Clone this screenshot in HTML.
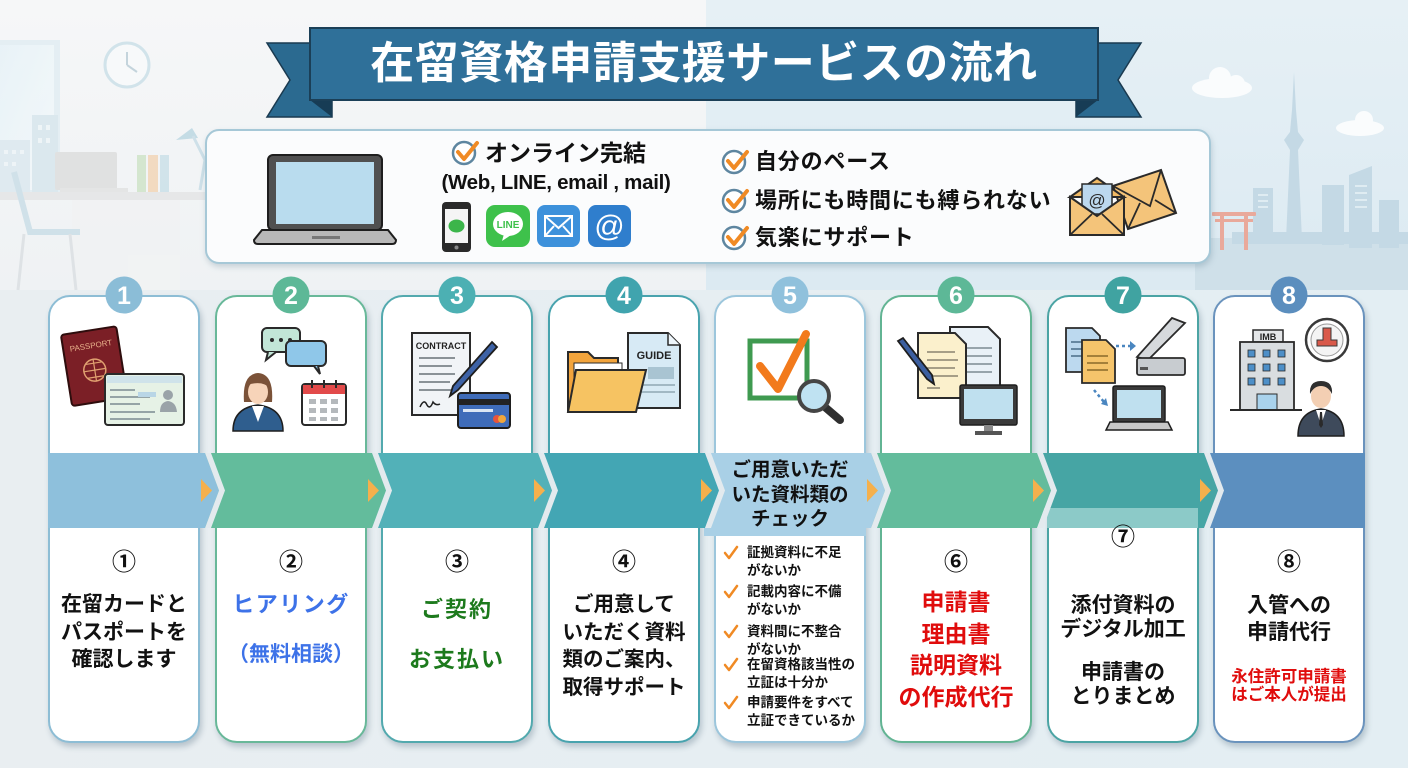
<!DOCTYPE html>
<html><head><meta charset="utf-8">
<style>
*{margin:0;padding:0;box-sizing:border-box}
html,body{width:1408px;height:768px;overflow:hidden;background:#e8eef1}
body{position:relative;font-family:"Liberation Sans","Noto Sans CJK JP",sans-serif}
svg{position:absolute;left:0;top:0}
.card{position:absolute;top:295px;width:152px;height:448px;border-radius:22px;background:#fff;border:2.5px solid #8cbcd4;box-shadow:2px 4px 6px rgba(60,90,110,0.28);z-index:1}
.t{position:absolute;width:152px;text-align:center;font-weight:bold;color:#111;white-space:nowrap;z-index:3;font-family:"Liberation Sans","Noto Sans CJK JP",sans-serif}
.n{font-size:24px;line-height:26px;font-weight:bold}
.h{position:absolute;font-weight:bold;color:#111;white-space:nowrap;z-index:3}
.ck{position:absolute;left:747px;width:120px;font-size:13.5px;line-height:18px;font-weight:bold;color:#111;white-space:nowrap;z-index:3}
</style></head><body>

<svg width="1408" height="768" style="z-index:0">
<defs>
<linearGradient id="gL" x1="0" y1="0" x2="0" y2="1"><stop offset="0" stop-color="#f6f7f8"/><stop offset="1" stop-color="#eff2f4"/></linearGradient>
<linearGradient id="gR" x1="0" y1="0" x2="0" y2="1"><stop offset="0" stop-color="#e6f0f5"/><stop offset="1" stop-color="#dceaf2"/></linearGradient>
<linearGradient id="gB" x1="0" y1="0" x2="1" y2="0"><stop offset="0" stop-color="#e9eef1"/><stop offset="1" stop-color="#e3eef3"/></linearGradient>
<linearGradient id="win" x1="0" y1="0" x2="1" y2="1"><stop offset="0" stop-color="#e6f2f8"/><stop offset="1" stop-color="#f4f9fb"/></linearGradient>
</defs>
<rect width="1408" height="768" fill="url(#gB)"/>
<rect x="0" y="0" width="706" height="290" fill="url(#gL)"/>
<rect x="706" y="0" width="702" height="290" fill="url(#gR)"/>
<g opacity="0.8">
<rect x="0" y="40" width="60" height="152" fill="#e1edf3"/>
<rect x="0" y="45" width="54" height="145" fill="url(#win)"/>
<rect x="32" y="115" width="26" height="78" fill="#d6e6ed"/>
<rect x="0" y="140" width="30" height="52" fill="#dbe8ef"/>
<g fill="#eef5f8"><rect x="38" y="125" width="4" height="5"/><rect x="46" y="125" width="4" height="5"/><rect x="38" y="138" width="4" height="5"/><rect x="46" y="138" width="4" height="5"/><rect x="4" y="150" width="4" height="4"/><rect x="12" y="150" width="4" height="4"/><rect x="20" y="150" width="4" height="4"/><rect x="4" y="162" width="4" height="4"/><rect x="12" y="162" width="4" height="4"/></g>
<circle cx="127" cy="65" r="22" fill="#f8fafb" stroke="#c9dfe8" stroke-width="3"/>
<path d="M127 65 V52 M127 65 L137 72" stroke="#b8ccd6" stroke-width="2" fill="none"/>
<rect x="55" y="152" width="62" height="38" rx="2" fill="#dcdddd"/>
<rect x="60" y="188" width="68" height="4" fill="#e2e2e2"/>
<rect x="137" y="155" width="9" height="37" fill="#cde3c6"/>
<rect x="148" y="155" width="10" height="37" fill="#f3d4b4"/>
<rect x="160" y="155" width="9" height="37" fill="#c9dfe8"/>
<path d="M176 140 L192 128 L198 138 Z" fill="#b9d6e2"/>
<path d="M193 136 L205 160 L200 190" stroke="#c6dce6" stroke-width="3" fill="none"/>
<rect x="0" y="192" width="206" height="8" fill="#e4e5e6"/>
<rect x="72" y="200" width="108" height="90" fill="#f1f2f3"/>
<path d="M14 172 L30 232 H80" stroke="#c8dde7" stroke-width="6" fill="none"/>
<path d="M24 234 L18 290 M70 234 L76 290" stroke="#dadfe2" stroke-width="3"/>
</g>
<rect x="1195" y="238" width="213" height="52" fill="#cfe0e9"/>
<g fill="#c4d9e5">
<rect x="1253" y="188" width="20" height="52"/>
<rect x="1322" y="185" width="22" height="60"/>
<path d="M1349 248 V175 L1372 166 V248 Z"/>
<rect x="1379" y="200" width="20" height="48"/>
<path d="M1286 240 L1290 150 L1284 140 L1290 132 L1292 110 L1294 72 L1296 110 L1298 132 L1304 140 L1298 150 L1302 240 Z"/>
<rect x="1232" y="232" width="176" height="12"/>
</g>
<g fill="#dfecf2"><rect x="1258" y="194" width="10" height="2"/><rect x="1258" y="200" width="10" height="2"/><rect x="1258" y="206" width="10" height="2"/><rect x="1355" y="185" width="12" height="2"/><rect x="1355" y="192" width="12" height="2"/><rect x="1355" y="199" width="12" height="2"/><rect x="1355" y="206" width="12" height="2"/></g>
<g fill="#e9a99b">
<rect x="1212" y="212" width="44" height="4" rx="1"/>
<rect x="1215" y="219" width="38" height="3"/>
<rect x="1220" y="215" width="4" height="35"/>
<rect x="1244" y="215" width="4" height="35"/>
</g>
<g fill="#fafcfd">
<ellipse cx="1222" cy="88" rx="30" ry="10"/><circle cx="1220" cy="78" r="11"/><circle cx="1236" cy="84" r="9"/>
<ellipse cx="1360" cy="128" rx="24" ry="8"/><circle cx="1364" cy="120" r="9"/>
</g>
</svg>

<svg width="1408" height="768" style="z-index:1">
<polygon points="267,43 332,43 332,117 267,117 290,80" fill="#2b6a90" stroke="#1a3a50" stroke-width="1.5"/>
<polygon points="1141,43 1076,43 1076,117 1141,117 1118,80" fill="#2b6a90" stroke="#1a3a50" stroke-width="1.5"/>
<polygon points="310,100 332,117 332,100" fill="#173c55"/>
<polygon points="1098,100 1076,117 1076,100" fill="#173c55"/>
<rect x="310" y="28" width="788" height="72" fill="#2f7099" stroke="#1b3f57" stroke-width="2"/>
<rect x="206" y="130" width="1004" height="133" rx="13" fill="#fbfcfd" stroke="#a6c8d7" stroke-width="2" style="filter:drop-shadow(1px 3px 3px rgba(80,110,130,0.25))"/>
<rect x="268" y="155" width="114" height="75" rx="5" fill="#505050" stroke="#1e1e1e" stroke-width="2"/>
<rect x="276" y="162" width="98" height="62" fill="#b9dcee"/>
<path d="M262 230 H388 L396 240 Q396 244 392 244 H258 Q254 244 254 240 Z" fill="#b8b8b8" stroke="#1e1e1e" stroke-width="2"/>
<rect x="312" y="236" width="28" height="3" fill="#777"/>
<g stroke="#5e86a0" stroke-width="2.5" fill="#fff">
<circle cx="464" cy="153" r="11"/><circle cx="734" cy="162" r="11"/><circle cx="734" cy="201" r="11"/><circle cx="734" cy="238" r="11"/>
</g>
<g stroke="#f08a24" stroke-width="4" fill="none" stroke-linecap="round" stroke-linejoin="round">
<path d="M458 152 L464 159 L477 143"/><path d="M728 161 L734 168 L747 152"/><path d="M728 200 L734 207 L747 191"/><path d="M728 237 L734 244 L747 228"/>
</g>
<rect x="442" y="202" width="29" height="50" rx="4" fill="#2a2a2a"/>
<rect x="445" y="209" width="23" height="34" fill="#f5f5f5"/>
<ellipse cx="456.5" cy="226" rx="8" ry="6.5" fill="#3cb54a"/>
<circle cx="456.5" cy="247.5" r="2" fill="#888"/>
<rect x="486" y="205" width="44" height="42" rx="9" fill="#3ec14b"/>
<ellipse cx="508" cy="224" rx="15" ry="12" fill="#fff"/>
<path d="M504 234 L502 241 L511 235 Z" fill="#fff"/>
<text x="508" y="228" font-size="10" font-weight="bold" fill="#3ec14b" text-anchor="middle" font-family="Liberation Sans, sans-serif">LINE</text>
<rect x="537" y="205" width="43" height="42" rx="8" fill="#3d91db"/>
<rect x="545" y="216" width="27" height="20" fill="none" stroke="#fff" stroke-width="2"/>
<path d="M545 216 L558.5 228 L572 216 M545 236 L554 226 M572 236 L563 226" fill="none" stroke="#fff" stroke-width="2"/>
<rect x="588" y="205" width="43" height="42" rx="8" fill="#2f7ecd"/>
<text x="609.5" y="236" font-size="30" fill="#fff" text-anchor="middle" font-family="Liberation Sans, sans-serif">@</text>
<polygon points="1113,186 1161,170 1176,213 1128,229" fill="#f4c47a" stroke="#2a2a2a" stroke-width="2"/>
<path d="M1113 186 L1150 206 L1161 170 M1128 229 L1140 203 M1176 213 L1155 200" fill="none" stroke="#2a2a2a" stroke-width="1.8"/>
<polygon points="1070,197 1097,178 1124,197" fill="#f0b964" stroke="#2a2a2a" stroke-width="2"/>
<rect x="1082" y="184" width="30" height="30" fill="#bcd8ee" stroke="#2a2a2a" stroke-width="1.5"/>
<text x="1097" y="206" font-size="17" fill="#2a2a2a" text-anchor="middle" font-family="Liberation Sans, sans-serif">@</text>
<path d="M1070 197 L1097 216 L1124 197 V235 H1070 Z" fill="#f4c47a" stroke="#2a2a2a" stroke-width="2"/>
<path d="M1070 235 L1092 214 M1124 235 L1102 214" fill="none" stroke="#2a2a2a" stroke-width="1.8"/>
</svg>

<div class="h" style="left:310px;top:28px;width:788px;height:72px;line-height:72px;text-align:center;color:#fff;font-size:44px;letter-spacing:0.5px">在留資格申請支援サービスの流れ</div>
<div class="h" style="left:485px;top:139px;font-size:23px;line-height:28px">オンライン完結</div>
<div class="h" style="left:426px;top:170px;width:260px;text-align:center;font-size:20.5px;line-height:26px;letter-spacing:-0.3px">(Web, LINE, email , mail)</div>
<div class="h" style="left:755px;top:148px;font-size:22px;line-height:28px;letter-spacing:0.8px">自分のペース</div>
<div class="h" style="left:755px;top:187px;font-size:22px;line-height:28px;letter-spacing:0.8px">場所にも時間にも縛られない</div>
<div class="h" style="left:755px;top:224px;font-size:22px;line-height:28px;letter-spacing:0.8px">気楽にサポート</div>

<div class="card" style="left:48px;border-color:#8dbdd5"></div>
<div class="card" style="left:215px;border-color:#68b899"></div>
<div class="card" style="left:381px;border-color:#52a9ae"></div>
<div class="card" style="left:548px;border-color:#48a3ae"></div>
<div class="card" style="left:714px;border-color:#9cc6dc"></div>
<div class="card" style="left:880px;border-color:#62b493"></div>
<div class="card" style="left:1047px;border-color:#4ba4a4"></div>
<div class="card" style="left:1213px;border-color:#6a93bd"></div>

<svg width="1408" height="768" style="z-index:2">
<rect x="48" y="453" width="152" height="75" fill="#8ec0dc"/>
<rect x="205" y="453" width="162" height="75" fill="#63bc9c"/>
<rect x="371" y="453" width="162" height="75" fill="#52b1b8"/>
<rect x="538" y="453" width="162" height="75" fill="#43a6b4"/>
<rect x="704" y="453" width="162" height="83" fill="#a9d0e6"/>
<rect x="870" y="453" width="162" height="75" fill="#63bc9c"/>
<rect x="1037" y="453" width="162" height="55" fill="#46a5a4"/>
<rect x="1047" y="508" width="152" height="20" fill="#8ccac8"/>
<rect x="1203" y="453" width="162" height="75" fill="#5c8fbf"/>
<g>
<polygon points="199,453 205,453 219,490.5 205,528 199,528" fill="#8ec0dc"/>
<polygon points="366,453 372,453 386,490.5 372,528 366,528" fill="#63bc9c"/>
<polygon points="532,453 538,453 552,490.5 538,528 532,528" fill="#52b1b8"/>
<polygon points="699,453 705,453 719,490.5 705,528 699,528" fill="#43a6b4"/>
<polygon points="865,453 871,453 885,490.5 871,528 865,528" fill="#a9d0e6"/>
<polygon points="1031,453 1037,453 1051,490.5 1037,528 1031,528" fill="#63bc9c"/>
<polygon points="1198,453 1204,453 1218,490.5 1204,528 1198,528" fill="#46a5a4"/>
</g>
<g fill="#e3eaee">
<polygon points="205,453 211,453 225,490.5 211,528 205,528 219,490.5"/>
<polygon points="372,453 378,453 392,490.5 378,528 372,528 386,490.5"/>
<polygon points="538,453 544,453 558,490.5 544,528 538,528 552,490.5"/>
<polygon points="705,453 711,453 725,490.5 711,528 705,528 719,490.5"/>
<polygon points="871,453 877,453 891,490.5 877,528 871,528 885,490.5"/>
<polygon points="1037,453 1043,453 1057,490.5 1043,528 1037,528 1051,490.5"/>
<polygon points="1204,453 1210,453 1224,490.5 1210,528 1204,528 1218,490.5"/>
</g>
<g fill="#f5b04c">
<polygon points="201,479 212,490.5 201,502"/>
<polygon points="368,479 379,490.5 368,502"/>
<polygon points="534,479 545,490.5 534,502"/>
<polygon points="701,479 712,490.5 701,502"/>
<polygon points="867,479 878,490.5 867,502"/>
<polygon points="1033,479 1044,490.5 1033,502"/>
<polygon points="1200,479 1211,490.5 1200,502"/>
</g>
<g font-family="Liberation Sans, sans-serif" font-weight="bold" font-size="25" fill="#fff" text-anchor="middle">
<circle cx="124" cy="295" r="18.5" fill="#8bbdd7"/><text x="124" y="304">1</text>
<circle cx="291" cy="295" r="18.5" fill="#5db897"/><text x="291" y="304">2</text>
<circle cx="457" cy="295" r="18.5" fill="#4cb0b3"/><text x="457" y="304">3</text>
<circle cx="624" cy="295" r="18.5" fill="#40a4ae"/><text x="624" y="304">4</text>
<circle cx="790" cy="295" r="18.5" fill="#90c1dc"/><text x="790" y="304">5</text>
<circle cx="956" cy="295" r="18.5" fill="#5db897"/><text x="956" y="304">6</text>
<circle cx="1123" cy="295" r="18.5" fill="#40a3a1"/><text x="1123" y="304">7</text>
<circle cx="1289" cy="295" r="18.5" fill="#5b8ebe"/><text x="1289" y="304">8</text>
</g>

<g transform="rotate(-9 95 365)">
<rect x="66" y="330" width="56" height="72" rx="3" fill="#7b1f26" stroke="#2e0d0d" stroke-width="2"/>
<text x="94" y="348" font-size="8" fill="#e6b08a" text-anchor="middle" font-family="Liberation Sans, sans-serif">PASSPORT</text>
<circle cx="94" cy="370" r="11" fill="none" stroke="#e0a070" stroke-width="1.5"/>
<path d="M83 370 H105 M94 359 V381 M86 363 H102 M86 377 H102" stroke="#e0a070" stroke-width="1.2" fill="none"/>
</g>
<rect x="105" y="374" width="79" height="51" rx="3" fill="#e6f2e6" stroke="#2a2a2a" stroke-width="2"/>
<rect x="107" y="376" width="75" height="7" fill="#cfe3ea"/>
<g stroke="#7a8a90" stroke-width="1.5"><path d="M110 390 H135 M110 397 H150 M110 404 H140 M110 412 H155 M110 419 H150"/></g>
<rect x="138" y="392" width="18" height="5" fill="#b9d6e6"/>
<path d="M160 412 Q160 402 168 401 Q176 402 177 412 Z" fill="#9aa3a8"/>
<circle cx="168" cy="395" r="5" fill="#9aa3a8"/>
<rect x="262" y="328" width="38" height="24" rx="5" fill="#c2e6d7" stroke="#2a2a2a" stroke-width="2"/>
<path d="M268 352 L266 360 L276 352" fill="#c2e6d7" stroke="#2a2a2a" stroke-width="2"/>
<g fill="#2a2a2a"><circle cx="272" cy="340" r="2"/><circle cx="281" cy="340" r="2"/><circle cx="290" cy="340" r="2"/></g>
<rect x="286" y="341" width="40" height="25" rx="5" fill="#8fc7e9" stroke="#2a2a2a" stroke-width="2"/>
<path d="M314 366 L320 374 L318 366" fill="#8fc7e9" stroke="#2a2a2a" stroke-width="2"/>
<path d="M233 431 Q233 408 258 405 Q283 408 283 431 Z" fill="#2f5e8e" stroke="#1e1e1e" stroke-width="1.5"/>
<path d="M252 406 L258 422 L264 406 Z" fill="#fff"/>
<path d="M244 402 Q242 374 258 373 Q274 374 272 402 Z" fill="#7b5238"/>
<ellipse cx="258" cy="392" rx="10" ry="12" fill="#f7d4b9"/>
<path d="M247 385 Q250 375 258 375 Q268 376 270 388 Q262 380 247 385 Z" fill="#7b5238"/>
<rect x="302" y="384" width="44" height="41" rx="3" fill="#fff" stroke="#2a2a2a" stroke-width="2"/>
<rect x="303" y="385" width="42" height="9" fill="#e24a4a"/>
<path d="M312 380 V388 M324 380 V388 M336 380 V388" stroke="#2a2a2a" stroke-width="2"/>
<g fill="#b5b9bc"><rect x="309" y="399" width="7" height="5"/><rect x="320" y="399" width="7" height="5"/><rect x="331" y="399" width="7" height="5"/><rect x="309" y="408" width="7" height="5"/><rect x="320" y="408" width="7" height="5"/><rect x="331" y="408" width="7" height="5"/><rect x="309" y="417" width="7" height="4"/><rect x="320" y="417" width="7" height="4"/><rect x="331" y="417" width="7" height="4"/></g>
<rect x="412" y="333" width="58" height="82" fill="#f1f4f7" stroke="#2a2a2a" stroke-width="2"/>
<text x="441" y="349" font-size="9" font-weight="bold" fill="#222" text-anchor="middle" font-family="Liberation Sans, sans-serif">CONTRACT</text>
<g stroke="#8a9297" stroke-width="2"><path d="M419 358 H455 M419 366 H452 M419 374 H455 M419 382 H450 M419 390 H452"/></g>
<path d="M420 407 Q424 398 427 405 Q430 410 433 402 Q436 406 440 404" stroke="#222" stroke-width="1.5" fill="none"/>
<path d="M492 342 L497 347 L458 390 L450 396 L453 386 Z" fill="#3d62a6" stroke="#1e1e1e" stroke-width="1.8"/>
<rect x="458" y="393" width="52" height="35" rx="3" fill="#3f6cb9" stroke="#1e1e1e" stroke-width="2"/>
<rect x="459" y="399" width="50" height="6" fill="#222"/>
<rect x="463" y="409" width="30" height="3" fill="#dbe6f4"/>
<circle cx="497" cy="419" r="4" fill="#e8543c"/><circle cx="502" cy="419" r="4" fill="#f1a63a"/>
<path d="M628 333 H668 L680 345 V408 H628 Z" fill="#d7eaf5" stroke="#2a2a2a" stroke-width="2"/>
<path d="M668 333 V345 H680" fill="#eef6fb" stroke="#2a2a2a" stroke-width="1.5"/>
<text x="654" y="359" font-size="11" font-weight="bold" fill="#222" text-anchor="middle" font-family="Liberation Sans, sans-serif">GUIDE</text>
<rect x="648" y="367" width="26" height="12" fill="#a9c4d2"/>
<path d="M640 385 H675 M640 392 H675" stroke="#8fa7b4" stroke-width="1.5"/>
<path d="M568 412 V352 H588 L594 358 H618 V412 Z" fill="#f2a43c" stroke="#2a2a2a" stroke-width="2"/>
<rect x="574" y="363" width="48" height="30" fill="#fff" stroke="#2a2a2a" stroke-width="1"/>
<path d="M568 412 L576 370 H646 L636 412 Z" fill="#f6c362" stroke="#2a2a2a" stroke-width="2"/>
<rect x="750" y="341" width="57" height="57" fill="#fff" stroke="#3f9a50" stroke-width="5"/>
<path d="M760 366 L778 389 L806 334" stroke="#f27a1c" stroke-width="8" fill="none" stroke-linecap="round" stroke-linejoin="round"/>
<path d="M826 408 L840 420" stroke="#2f2f2f" stroke-width="8" stroke-linecap="round"/>
<circle cx="814" cy="396" r="15" fill="#bfe2f2" stroke="#454545" stroke-width="4"/>
<path d="M950 327 H988 L1000 339 V392 H950 Z" fill="#e9f1f7" stroke="#2a2a2a" stroke-width="2"/>
<g stroke="#7c8a92" stroke-width="1.5"><path d="M958 348 H992 M958 356 H992 M958 364 H992 M958 372 H992"/></g>
<path d="M918 333 H955 L966 344 V398 H918 Z" fill="#fbf0cc" stroke="#2a2a2a" stroke-width="2"/>
<g stroke="#8a8270" stroke-width="1.5"><path d="M927 352 H955 M927 360 H958 M927 368 H955 M927 376 H958 M927 388 H940"/></g>
<path d="M898 341 L903 338 L932 375 L934 384 L927 379 Z" fill="#3c5fa0" stroke="#1e1e1e" stroke-width="1.8"/>
<rect x="960" y="385" width="57" height="40" rx="2" fill="#3a3a3a" stroke="#1e1e1e" stroke-width="1.5"/>
<rect x="964" y="389" width="49" height="30" fill="#bfe0ef"/>
<rect x="984" y="425" width="9" height="6" fill="#888"/>
<rect x="975" y="431" width="27" height="4" fill="#555"/>
<path d="M1066 328 H1092 L1100 336 V372 H1066 Z" fill="#bcd9ef" stroke="#2a2a2a" stroke-width="1.8"/>
<g stroke="#4a6d88" stroke-width="1.5"><path d="M1071 342 H1093 M1071 349 H1093 M1071 356 H1093"/></g>
<path d="M1082 340 H1106 L1115 349 V383 H1082 Z" fill="#f5c46b" stroke="#2a2a2a" stroke-width="1.8"/>
<g stroke="#8a6a2a" stroke-width="1.5"><path d="M1087 356 H1108 M1087 363 H1108 M1087 370 H1108"/></g>
<path d="M1116 346 H1130" stroke="#4a86c0" stroke-width="2.5" stroke-dasharray="3 3"/>
<path d="M1130 341 L1136 346 L1130 351 Z" fill="#4a86c0"/>
<path d="M1094 390 L1104 402" stroke="#4a86c0" stroke-width="2.5" stroke-dasharray="3 3"/>
<path d="M1101 404 L1108 406 L1106 398 Z" fill="#4a86c0"/>
<path d="M1137 357 L1172 318 L1185 323 L1148 360 Z" fill="#d6d9dc" stroke="#2a2a2a" stroke-width="1.8"/>
<rect x="1137" y="358" width="48" height="17" rx="2" fill="#c8ccd0" stroke="#2a2a2a" stroke-width="1.8"/>
<rect x="1140" y="367" width="8" height="3" fill="#555"/>
<rect x="1113" y="386" width="52" height="36" rx="2" fill="#3a3a3a" stroke="#1e1e1e" stroke-width="1.5"/>
<rect x="1117" y="390" width="44" height="28" fill="#bfe0ef"/>
<path d="M1110 422 H1168 L1172 430 H1106 Z" fill="#c8c8c8" stroke="#1e1e1e" stroke-width="1.5"/>
<rect x="1253" y="330" width="30" height="12" fill="#e4e6e8" stroke="#2a2a2a" stroke-width="1.5"/>
<text x="1268" y="340" font-size="9" font-weight="bold" fill="#222" text-anchor="middle" font-family="Liberation Sans, sans-serif">IMB</text>
<rect x="1240" y="342" width="54" height="68" fill="#d9dde0" stroke="#2a2a2a" stroke-width="1.8"/>
<g fill="#4d8fc8" stroke="#2a2a2a" stroke-width="0.8">
<rect x="1248" y="350" width="7" height="7"/><rect x="1263" y="350" width="7" height="7"/><rect x="1278" y="350" width="7" height="7"/>
<rect x="1248" y="364" width="7" height="7"/><rect x="1263" y="364" width="7" height="7"/><rect x="1278" y="364" width="7" height="7"/>
<rect x="1248" y="378" width="7" height="7"/><rect x="1263" y="378" width="7" height="7"/><rect x="1278" y="378" width="7" height="7"/>
</g>
<rect x="1257" y="394" width="20" height="16" fill="#a9d2ec" stroke="#2a2a2a" stroke-width="1"/>
<path d="M1230 410 H1302" stroke="#2a2a2a" stroke-width="2"/>
<circle cx="1327" cy="340" r="21" fill="#fff" stroke="#3a3a3a" stroke-width="2.5"/>
<circle cx="1327" cy="340" r="16" fill="#f4f4f4" stroke="#999" stroke-width="1"/>
<path d="M1323 328 H1331 V340 H1337 V346 H1317 V340 H1323 Z" fill="#d9594a" stroke="#3a3a3a" stroke-width="1"/>
<path d="M1298 436 Q1298 412 1321 409 Q1344 412 1344 436 Z" fill="#3e4a5b" stroke="#1e1e1e" stroke-width="1.5"/>
<path d="M1316 410 L1321 425 L1326 410 Z" fill="#fff"/>
<path d="M1320 412 L1322 412 L1323 425 L1321 428 L1319 425 Z" fill="#2a2a2a"/>
<ellipse cx="1321" cy="396" rx="10" ry="12" fill="#f3cfb3"/>
<path d="M1310 394 Q1309 381 1321 381 Q1333 381 1332 394 Q1328 386 1321 386 Q1314 386 1310 394 Z" fill="#2f2f2f"/>
<g stroke="#f08a24" stroke-width="2.5" fill="none" stroke-linecap="round" stroke-linejoin="round">
<path d="M725 553 L729 558 L737 547"/>
<path d="M725 592 L729 597 L737 586"/>
<path d="M725 632 L729 637 L737 626"/>
<path d="M725 665 L729 670 L737 659"/>
<path d="M725 703 L729 708 L737 697"/>
</g>
</svg>

<div class="t n" style="left:48px;top:550px">①</div>
<div class="t" style="left:48px;top:591px;font-size:21px;line-height:27.5px">在留カードと<br>パスポートを<br>確認します</div>

<div class="t n" style="left:215px;top:550px">②</div>
<div class="t" style="left:215px;top:591px;font-size:22px;line-height:28px;color:#3d72e8;letter-spacing:1.5px">ヒアリング</div>
<div class="t" style="left:215px;top:641px;font-size:21px;line-height:28px;color:#3d72e8">（無料相談）</div>

<div class="t n" style="left:381px;top:550px">③</div>
<div class="t" style="left:381px;top:596px;font-size:22px;line-height:28px;color:#1d7a1d;letter-spacing:2px">ご契約</div>
<div class="t" style="left:381px;top:646px;font-size:22px;line-height:28px;color:#1d7a1d;letter-spacing:2px">お支払い</div>

<div class="t n" style="left:548px;top:550px">④</div>
<div class="t" style="left:548px;top:591px;font-size:20.5px;line-height:27.7px">ご用意して<br>いただく資料<br>類のご案内、<br>取得サポート</div>

<div class="t" style="left:714px;top:458px;font-size:19.5px;line-height:24.5px">ご用意いただ<br>いた資料類の<br>チェック</div>
<div class="ck" style="top:544px">証拠資料に不足<br>がないか</div>
<div class="ck" style="top:583px">記載内容に不備<br>がないか</div>
<div class="ck" style="top:623px">資料間に不整合<br>がないか</div>
<div class="ck" style="top:656px">在留資格該当性の<br>立証は十分か</div>
<div class="ck" style="top:694px">申請要件をすべて<br>立証できているか</div>

<div class="t n" style="left:880px;top:550px">⑥</div>
<div class="t" style="left:880px;top:587px;font-size:23px;line-height:31.5px;color:#e00c0c">申請書<br>理由書<br>説明資料<br>の作成代行</div>

<div class="t n" style="left:1047px;top:525px">⑦</div>
<div class="t" style="left:1047px;top:594px;font-size:21px;line-height:24px">添付資料の<br>デジタル加工</div>
<div class="t" style="left:1047px;top:661px;font-size:21px;line-height:24px">申請書の<br>とりまとめ</div>

<div class="t n" style="left:1213px;top:550px">⑧</div>
<div class="t" style="left:1213px;top:592px;font-size:21px;line-height:27px">入管への<br>申請代行</div>
<div class="t" style="left:1213px;top:668px;font-size:16.5px;line-height:18px;color:#e00c0c">永住許可申請書<br>はご本人が提出</div>

</body></html>
